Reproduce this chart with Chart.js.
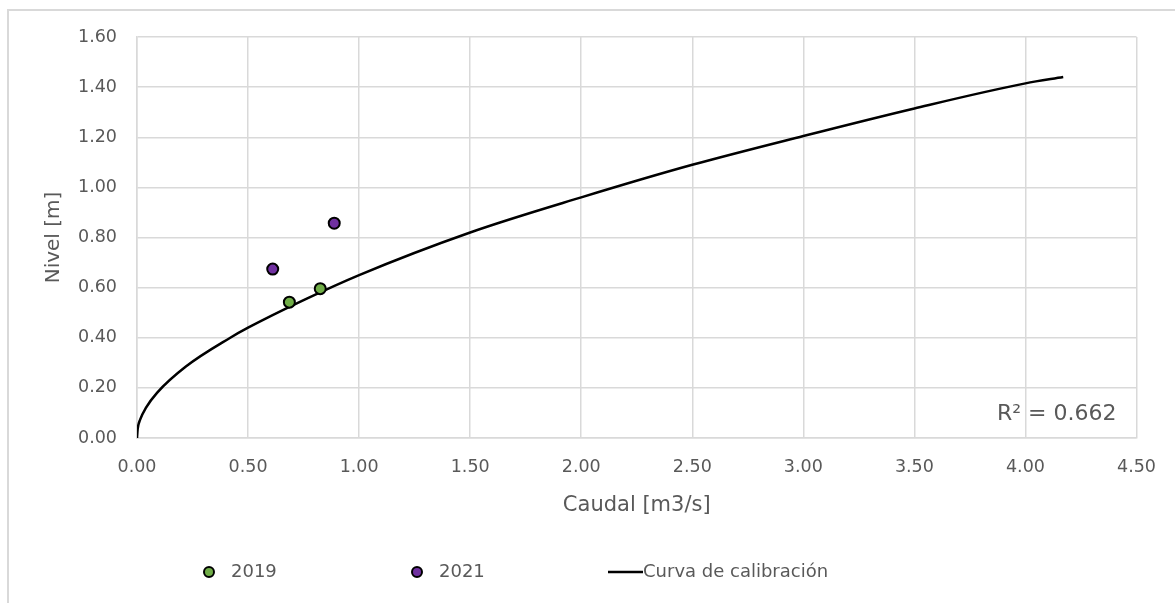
<!DOCTYPE html>
<html>
<head>
<meta charset="utf-8">
<script src="https://cdn.jsdelivr.net/npm/chart.js@4.4.1/dist/chart.umd.min.js"></script>
<style>
  html, body { margin: 0; padding: 0; background: #fff; }
  #wrap { position: relative; width: 1175px; height: 603px; overflow: hidden; }
  #frame { position: absolute; left: 7px; top: 9px; width: 1300px; height: 700px;
           border-top: 2px solid #d9d9d9; border-left: 2px solid #d9d9d9; box-sizing: border-box; }
  canvas { position: absolute; left: 0; top: 0; }
</style>
</head>
<body>
<div id="wrap">
  <div id="frame"></div>
  <canvas id="grafico" width="1175" height="603"></canvas>
</div>
<script>
// datos
const x2019 = [0.686, 0.825];
const y2019 = [0.542, 0.596];
const x2021 = [0.611, 0.888];
const y2021 = [0.674, 0.857];
const curvaX = [0, 0.003, 0.015, 0.04, 0.09, 0.22, 0.42, 0.5, 0.75, 1.0, 1.5, 2.0, 2.5, 3.0, 3.5, 4.0, 4.17];
const curvaY = [0, 0.035, 0.075, 0.12, 0.18, 0.285, 0.40, 0.44, 0.55, 0.65, 0.82, 0.96, 1.09, 1.205, 1.315, 1.415, 1.44];
const etiquetaR2 = 'R² = 0.662';

const gris = '#595959';
const fuente = 'DejaVu Sans';

const pares = (xs, ys) => xs.map((x, i) => ({ x: x, y: ys[i] }));

Chart.defaults.font.family = fuente;
Chart.defaults.color = gris;

// leyenda abajo, estilo excel
const leyenda = {
  id: 'leyenda',
  afterDraw(chart) {
    const ctx = chart.ctx;
    const posX = [209, 417, 608];
    const y = 572;
    ctx.save();
    ctx.font = '18px ' + fuente;
    ctx.fillStyle = gris;
    ctx.textBaseline = 'middle';
    chart.data.datasets.forEach((ds, i) => {
      const x = posX[i];
      if (ds.showLine) {
        ctx.strokeStyle = ds.borderColor;
        ctx.lineWidth = 2.5;
        ctx.beginPath();
        ctx.moveTo(x, y);
        ctx.lineTo(x + 35, y);
        ctx.stroke();
        ctx.fillText(ds.label, x + 35, y);
      } else {
        ctx.beginPath();
        ctx.arc(x, y, 5, 0, Math.PI * 2);
        ctx.fillStyle = ds.backgroundColor;
        ctx.fill();
        ctx.lineWidth = 2;
        ctx.strokeStyle = '#000';
        ctx.stroke();
        ctx.fillStyle = gris;
        ctx.fillText(ds.label, x + 22, y);
      }
    });
    // R2
    const a = chart.chartArea;
    ctx.font = '22px ' + fuente;
    ctx.textAlign = 'right';
    ctx.fillText(etiquetaR2, a.right - 20, 414);
    ctx.restore();
  }
};

new Chart(document.getElementById('grafico'), {
  type: 'scatter',
  data: {
    datasets: [{
      label: '2019',
      data: pares(x2019, y2019),
      backgroundColor: '#70ad47',
      borderColor: '#000',
      borderWidth: 2,
      pointRadius: 5.5
    }, {
      label: '2021',
      data: pares(x2021, y2021),
      backgroundColor: '#7030a0',
      borderColor: '#000',
      borderWidth: 2,
      pointRadius: 5.5
    }, {
      label: 'Curva de calibración',
      data: pares(curvaX, curvaY),
      showLine: true,
      borderColor: '#000',
      borderWidth: 2.5,
      pointRadius: 0,
      cubicInterpolationMode: 'monotone'
    }]
  },
  options: {
    responsive: false,
    animation: false,
    layout: { padding: { left: 0, top: 37, right: 34, bottom: 85 } },
    plugins: { legend: { display: false }, tooltip: { enabled: false } },
    scales: {
      x: {
        min: 0, max: 4.5,
        afterFit: s => { s.height = 80; },
        grid: { color: '#d9d9d9', lineWidth: 1.5, drawTicks: false },
        border: { color: '#d9d9d9', width: 1.5 },
        ticks: { stepSize: 0.5, padding: 19, font: { size: 17.5 }, callback: v => v.toFixed(2) },
        title: { display: true, text: 'Caudal [m3/s]', font: { size: 21 }, padding: { top: 0, bottom: 0 } }
      },
      y: {
        min: 0, max: 1.6,
        afterFit: s => { s.width = 137; },
        grid: { color: '#d9d9d9', lineWidth: 1.5, drawTicks: false },
        border: { color: '#d9d9d9', width: 1.5 },
        ticks: { stepSize: 0.2, padding: 20, font: { size: 17.5 }, callback: v => v.toFixed(2) },
        title: { display: true, text: 'Nivel [m]', font: { size: 20 }, padding: { top: 42, bottom: 0 } }
      }
    }
  },
  plugins: [leyenda]
});
</script>
</body>
</html>
